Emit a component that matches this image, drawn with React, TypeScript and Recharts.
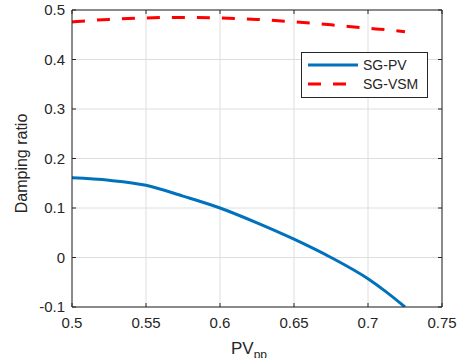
import { CartesianGrid, Line, LineChart, ReferenceLine, XAxis, YAxis } from 'recharts';

const pvPen = [0.5, 0.525, 0.55, 0.575, 0.6, 0.625, 0.65, 0.675, 0.7, 0.7125, 0.725];
const sgPv = [0.161, 0.156, 0.146, 0.124, 0.1, 0.07, 0.037, 0.0, -0.043, -0.07, -0.1];
const sgVsm = [0.476, 0.481, 0.484, 0.485, 0.484, 0.481, 0.476, 0.47, 0.463, 0.46, 0.456];
const xTicks = [0.5, 0.55, 0.6, 0.65, 0.7, 0.75];
const yTicks = [-0.1, 0, 0.1, 0.2, 0.3, 0.4, 0.5];

const data = pvPen.map((x, i) => ({ x, pv: sgPv[i], vsm: sgVsm[i] }));

const font = '"Liberation Sans", Arial, Helvetica, sans-serif';
const axisColor = '#262626';

const fmt = (v: number) => String(Number(v.toFixed(2)));

const BottomTick = (p: any) => (
    <g>
        <line x1={p.x} y1={p.y} x2={p.x} y2={p.y - 4} stroke={axisColor} />
        <line x1={p.x} y1={10} x2={p.x} y2={14} stroke={axisColor} />
        <text x={p.x} y={p.y + 21} textAnchor="middle" fontSize={15} fontFamily={font} fill={axisColor}>
            {fmt(p.payload.value)}
        </text>
    </g>
);
const LeftTick = (p: any) => (
    <g>
        <line x1={p.x} y1={p.y} x2={p.x + 4} y2={p.y} stroke={axisColor} />
        <line x1={442} y1={p.y} x2={438} y2={p.y} stroke={axisColor} />
        <text x={p.x - 7} y={p.y + 5} textAnchor="end" fontSize={15} fontFamily={font} fill={axisColor}>
            {fmt(p.payload.value)}
        </text>
    </g>
);

const LegendBox = () => (
    <div style={{ position: 'absolute', left: 301, top: 52, width: 125, height: 44, border: `1px solid ${axisColor}`, background: '#fff' }}>
        <svg width={125} height={44} style={{ display: 'block' }}>
            <line x1={6} y1={12} x2={56} y2={12} stroke="#0072BD" strokeWidth={3} />
            <text x={61} y={17} fontSize={14} fontFamily={font} fill={axisColor}>SG-PV</text>
            <line x1={6} y1={31} x2={56} y2={31} stroke="#FF0000" strokeWidth={3} strokeDasharray="13 12" />
            <text x={61} y={36} fontSize={14} fontFamily={font} fill={axisColor}>SG-VSM</text>
        </svg>
    </div>
);

export default function App() {
    return <div style={{ position: 'absolute', left: 0, top: 0, width: 461, height: 358, background: '#fff' }}>
        <LineChart width={461} height={358} data={data} margin={{ top: 10, right: 19, bottom: 21, left: 0 }}>
            <CartesianGrid stroke="#dedede" strokeWidth={1} />
            <XAxis dataKey="x" type="number" domain={[0.5, 0.75]} ticks={xTicks} tickSize={0} tickMargin={0} height={30}
                tick={BottomTick} stroke={axisColor} allowDataOverflow
                label={{
                    content: (props: any) => {
                        const vb = props.viewBox;
                        return <text x={vb.x + vb.width / 2 - 8} y={vb.y + 47} textAnchor="middle" fontSize={17} fontFamily={font} fill={axisColor}>
                            PV<tspan fontSize={12} dy={5}>pp</tspan>
                        </text>;
                    }
                }} />
            <YAxis type="number" domain={[-0.1, 0.5]} ticks={yTicks} width={72} tickSize={0} tickMargin={0}
                tick={LeftTick} stroke={axisColor} allowDataOverflow
                label={{
                    content: (props: any) => {
                        const vb = props.viewBox;
                        const cx = 27;
                        const cy = vb.y + vb.height / 2 + 5;
                        return <text x={cx} y={cy} transform={`rotate(-90 ${cx} ${cy})`} textAnchor="middle" fontSize={16} fontFamily={font} fill={axisColor}>
                            Damping ratio
                        </text>;
                    }
                }} />
            <ReferenceLine y={0.5} stroke={axisColor} />
            <ReferenceLine x={0.75} stroke={axisColor} />
            <Line dataKey="pv" name="SG-PV" type="monotone" stroke="#0072BD" strokeWidth={3} dot={false} isAnimationActive={false} />
            <Line dataKey="vsm" name="SG-VSM" type="monotone" stroke="#FF0000" strokeWidth={3} strokeDasharray="13 12" dot={false} isAnimationActive={false} />
        </LineChart>
        <LegendBox />
    </div>;
}
